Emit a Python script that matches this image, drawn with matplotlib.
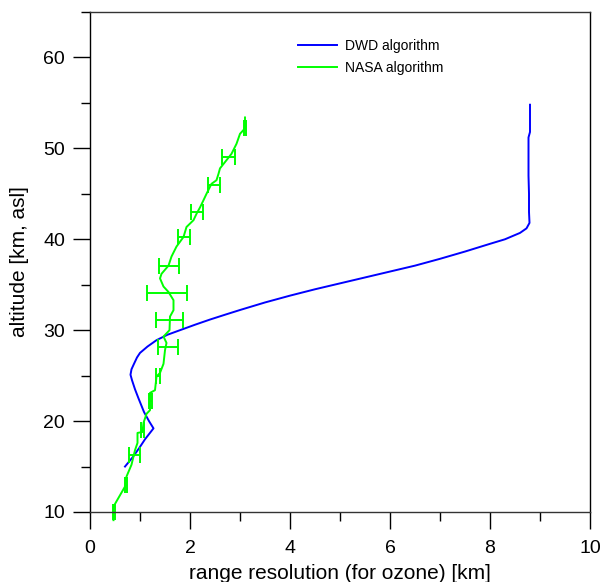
import matplotlib
matplotlib.use("Agg")
import matplotlib.pyplot as plt
from matplotlib.ticker import MultipleLocator

plt.rcParams['font.family'] = ['Liberation Sans', 'DejaVu Sans']

# DWD algorithm: range resolution [km] vs altitude [km]
dwd_alt = [15.0, 16.0, 17.0, 18.0, 19.2, 20.0, 21.0, 22.5, 23.5, 24.5, 25.1, 25.7,
           26.3, 27.0, 27.5, 28.2, 28.9, 29.5, 30.0, 30.6, 31.17, 31.7, 32.22, 33.05,
           33.8, 34.5, 35.15, 35.8, 36.45, 37.1, 37.85, 38.65, 39.5, 40.0, 40.7,
           41.2, 41.8, 43.0, 45.0, 47.0, 49.0, 51.2, 51.8, 53.0, 54.8]
dwd_res = [0.70, 0.85, 0.98, 1.10, 1.27, 1.18, 1.08, 0.97, 0.90, 0.84, 0.81, 0.83,
           0.88, 0.94, 1.00, 1.15, 1.33, 1.55, 1.80, 2.10, 2.40, 2.70, 3.00, 3.50,
           4.00, 4.50, 5.00, 5.50, 6.00, 6.50, 7.00, 7.50, 8.00, 8.30, 8.60,
           8.73, 8.79, 8.78, 8.78, 8.77, 8.77, 8.77, 8.80, 8.80, 8.80]

# NASA algorithm
nasa_alt = [9.1, 10.6, 12.8, 13.9, 15.2, 16.8, 17.6, 18.7, 18.8, 19.8, 20.8, 21.2,
            22.3, 23.1, 23.4, 24.9, 25.3, 26.3, 27.8, 28.6, 29.3, 30.0, 31.5, 32.2,
            33.3, 34.2, 34.8, 35.7, 36.2, 37.1, 38.1, 39.2, 40.25, 41.35, 42.1, 42.8,
            43.5, 44.3, 45.0, 46.1, 46.5, 47.2, 47.8, 48.7, 49.4, 50.5, 51.6, 52.2, 53.4]
nasa_res = [0.47, 0.47, 0.70, 0.73, 0.83, 0.90, 0.95, 0.95, 1.05, 1.07, 1.13, 1.20,
            1.20, 1.20, 1.30, 1.33, 1.40, 1.47, 1.50, 1.53, 1.47, 1.59, 1.60, 1.67,
            1.67, 1.57, 1.47, 1.40, 1.43, 1.57, 1.63, 1.73, 1.87, 1.93, 2.07, 2.13,
            2.20, 2.27, 2.33, 2.43, 2.53, 2.57, 2.60, 2.73, 2.83, 2.93, 3.00, 3.10, 3.10]

# NASA error bars
err_alt = [10.0, 13.0, 16.3, 19.0, 22.2, 25.0, 28.1, 31.1, 34.1, 37.1, 40.2, 43.0, 46.0, 49.0, 52.2]
err_res = [0.47, 0.72, 0.88, 1.05, 1.20, 1.36, 1.55, 1.58, 1.53, 1.57, 1.87, 2.13, 2.48, 2.77, 3.10]
err_hw = [0.02, 0.02, 0.11, 0.03, 0.03, 0.04, 0.20, 0.27, 0.40, 0.20, 0.12, 0.12, 0.12, 0.13, 0.02]

fig = plt.figure(figsize=(6.04, 5.82), dpi=100)
ax = fig.add_axes([90/604, 70/582, 500/604, 500/582])

ax.plot(dwd_res, dwd_alt, color='#0000ff', lw=1.4, label='DWD algorithm')
ax.plot(nasa_res, nasa_alt, color='#00ff00', lw=1.4, label='NASA algorithm', clip_on=False)
ax.errorbar(err_res, err_alt, xerr=err_hw, fmt='none', ecolor='#00ff00', elinewidth=1.4,
            capsize=5.8, capthick=1.4, clip_on=False)

ax.set_xlim(0, 10)
ax.set_ylim(10, 65)
ax.xaxis.set_major_locator(MultipleLocator(2))
ax.xaxis.set_minor_locator(MultipleLocator(1))
ax.yaxis.set_major_locator(MultipleLocator(10))
ax.yaxis.set_minor_locator(MultipleLocator(5))
ax.tick_params(which='major', length=12, width=1, labelsize=14, direction='out')
ax.tick_params(which='minor', length=6.5, width=1, direction='out')
ax.tick_params(axis='x', which='major', pad=8)
ax.tick_params(axis='y', which='major', pad=6)
ax.set_yticks([10, 20, 30, 40, 50, 60])

for name, s in ax.spines.items():
    s.set_linewidth(1.0)
    s.set_color('black' if name in ('left', 'right') else '#333333')

ax.set_xlabel('range resolution (for ozone) [km]', fontsize=15, labelpad=5)
ax.set_ylabel('altitude [km, asl]', fontsize=15, labelpad=10)

ax.legend(loc='upper left', bbox_to_anchor=(0.416, 0.946), frameon=False, fontsize=10,
          handlelength=2.8, handletextpad=0.6, borderaxespad=0, borderpad=0,
          labelspacing=0.55)

fig.savefig('out.png', dpi=100)
